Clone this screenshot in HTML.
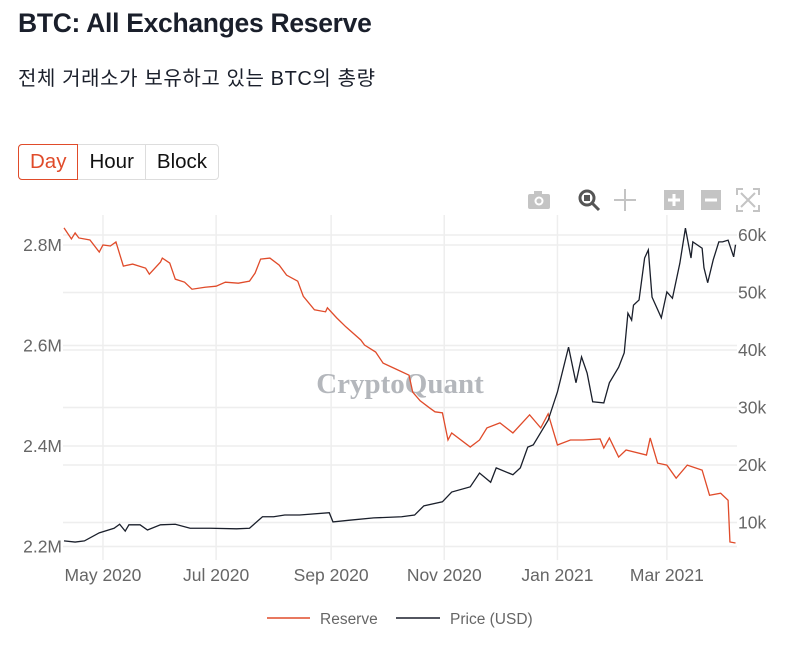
<!DOCTYPE html>
<html><head><meta charset="utf-8">
<style>
body{margin:0;width:800px;height:650px;background:#fff;overflow:hidden;font-family:"Liberation Sans","Noto Sans CJK KR",sans-serif;position:relative}
.title{position:absolute;left:18px;top:8px;font-size:26.5px;font-weight:bold;color:#1a1f2b;letter-spacing:-0.3px}
.sub{position:absolute;left:18px;top:62px;font-size:20px;color:#1a1f2b;letter-spacing:0.6px}
.btns{position:absolute;left:18px;top:144px;display:flex;border:1px solid #ddd;border-radius:4px;height:34px}
.btns div{font-size:20.5px;padding:0 11px;line-height:34px;color:#111;border-left:1px solid #ddd}
.btns div.on{color:#e04b2a;border:1px solid #e04b2a;border-radius:4px 0 0 4px;margin:-1px 0 -1px -1px;line-height:34px}
svg{position:absolute;left:0;top:0}
</style></head><body>
<div class="title">BTC: All Exchanges Reserve</div>
<div class="sub">전체 거래소가 보유하고 있는 BTC의 총량</div>
<div class="btns">
<div class="on">Day</div>
<div style="border-left:none">Hour</div>
<div>Block</div>
</div>
<svg width="800" height="650" id="chart">
<g fill="#c4c4c4">
<g><rect x="528" y="194" width="22" height="15" rx="2"/><rect x="534" y="191" width="8" height="4"/><circle cx="539" cy="201" r="4.5" fill="#fff"/><circle cx="539" cy="201" r="2.5"/></g>
<g><circle cx="587" cy="198" r="7" fill="none" stroke="#555" stroke-width="3"/><rect x="584" y="195" width="6" height="6" fill="#555"/><line x1="592" y1="203" x2="599" y2="210" stroke="#555" stroke-width="3"/></g>
<g stroke="#c4c4c4" stroke-width="2"><line x1="625" y1="189" x2="625" y2="211"/><line x1="614" y1="200" x2="636" y2="200"/></g>
<g><rect x="664" y="190" width="20" height="20"/><path d="M674 194v12M668 200h12" stroke="#fff" stroke-width="3"/></g>
<g><rect x="701" y="190" width="20" height="20"/><path d="M705 200h12" stroke="#fff" stroke-width="3"/></g>
<g stroke="#c4c4c4" stroke-width="2" fill="none"><path d="M737 195v-6h6M759 195v-6h-6M737 205v6h6M759 205v6h-6M741 193l14 14M755 193l-14 14"/></g>
</g>
<g id="grid"></g>
<text x="400" y="393" text-anchor="middle" font-family="Liberation Serif,serif" font-weight="bold" font-size="29" fill="#b4b7bc">CryptoQuant</text>
<g id="series"></g>
<g id="axes" font-size="17.5" fill="#666"></g>
<g font-size="15.5" fill="#666">
<g><line x1="267" y1="618" x2="310" y2="618" stroke="#e04b2a" stroke-width="1.5"/><text x="320" y="624">Reserve</text></g>
<g><line x1="396" y1="618" x2="440" y2="618" stroke="#1a1f2b" stroke-width="1.5"/><text x="450" y="624">Price (USD)</text></g>
</g>
</svg>
<script>
const reserveDays=[0,4,6,8,14,19,21,25,28,32,37,44,46,52,53,57,60,65,69,76,82,87,94,100,103,106,111,116,120,126,129,135,141,142,147,152,160,162,168,172,179,186,188,192,197,200,204,207,209,219,224,228,235,242,251,257,261,266,273,280,289,291,294,299,303,314,316,320,325,330,336,344,348,354,358,359,362];
const reserveValues=[2.834,2.812,2.824,2.814,2.810,2.786,2.800,2.798,2.806,2.758,2.762,2.754,2.742,2.766,2.774,2.764,2.732,2.726,2.712,2.716,2.718,2.726,2.724,2.728,2.744,2.772,2.774,2.760,2.740,2.728,2.698,2.671,2.667,2.675,2.655,2.637,2.611,2.601,2.587,2.565,2.553,2.541,2.507,2.490,2.476,2.468,2.466,2.412,2.426,2.398,2.412,2.436,2.446,2.426,2.462,2.436,2.464,2.402,2.412,2.412,2.414,2.396,2.416,2.378,2.392,2.382,2.416,2.366,2.362,2.336,2.362,2.352,2.302,2.306,2.292,2.209,2.207];
const priceDays=[0,6,11,19,27,30,33,35,41,45,52,60,68,79,93,100,107,113,119,127,143,145,154,167,182,189,194,204,209,219,224,230,233,242,246,250,253,261,266,272,276,279,282,285,291,294,299,302,304,306,307,310,313,315,317,322,325,328,332,335,338,339,344,345,347,350,353,355,358,361,362];
const priceValues=[6.8,6.6,6.8,8.2,9.0,9.7,8.5,9.6,9.6,8.7,9.6,9.7,9.0,9.0,8.9,9.0,11.0,11.0,11.3,11.3,11.7,10.1,10.4,10.8,11.0,11.3,12.9,13.6,15.3,16.2,18.6,17.0,19.5,18.3,19.5,23.1,23.5,27.8,32.7,40.5,34.3,38.8,36.0,31.0,30.8,34.3,37.0,39.5,46.4,45.2,47.8,48.7,56.0,57.4,49.2,45.6,50.1,49.0,55.1,61.2,56.0,58.8,57.7,54.3,51.7,55.7,58.8,58.8,59.1,56.2,58.3];
const monthTickDays=[21,82,144,205,266,325];
const monthTickLabels=["May 2020","Jul 2020","Sep 2020","Nov 2020","Jan 2021","Mar 2021"];
const leftTicks=[2.2,2.4,2.6,2.8];
const leftTickLabels=["2.2M","2.4M","2.6M","2.8M"];
const rightTicks=[10,20,30,40,50,60];
const rightTickLabels=["10k","20k","30k","40k","50k","60k"];

const X=d=>64+d*1.855;
const YL=v=>245+(2.8-v)/0.2*100.5;
const YR=v=>235+(60-v)/10*57.5;
const NS="http://www.w3.org/2000/svg";
function mk(tag,attrs,parent){const e=document.createElementNS(NS,tag);for(const k in attrs)e.setAttribute(k,attrs[k]);parent.appendChild(e);return e;}
const grid=document.getElementById('grid'),axes=document.getElementById('axes'),series=document.getElementById('series');
monthTickDays.forEach((d,i)=>{
  const l=mk('line',{x1:X(d),x2:X(d),y1:215,y2:560,stroke:'#eee','stroke-width':1.5},grid);
  
  
  const t=mk('text',{x:X(d),y:581,'text-anchor':'middle'},axes);t.textContent=monthTickLabels[i];
  
  
});
leftTicks.forEach((v,i)=>{
  const l=mk('line',{x1:63,x2:737,y1:YL(v),y2:YL(v),stroke:'#eee','stroke-width':1.5},grid);
  
  
  const t=mk('text',{x:62,y:YL(v)+6,'text-anchor':'end'},axes);t.textContent=leftTickLabels[i];
  
  
});
rightTicks.forEach((v,i)=>{
  const l=mk('line',{x1:63,x2:737,y1:YR(v),y2:YR(v),stroke:'#eee','stroke-width':1.5},grid);
  
  
  const t=mk('text',{x:738,y:YR(v)+6},axes);t.textContent=rightTickLabels[i];
  
  
});
const rp=mk('polyline',{points:reserveDays.map((d,i)=>X(d)+','+YL(reserveValues[i])).join(' '),fill:'none',stroke:'#e04b2a','stroke-width':1.3},series);


const pp=mk('polyline',{points:priceDays.map((d,i)=>X(d)+','+YR(priceValues[i])).join(' '),fill:'none',stroke:'#1a1f2b','stroke-width':1.3},series);


</script>
</body></html>
